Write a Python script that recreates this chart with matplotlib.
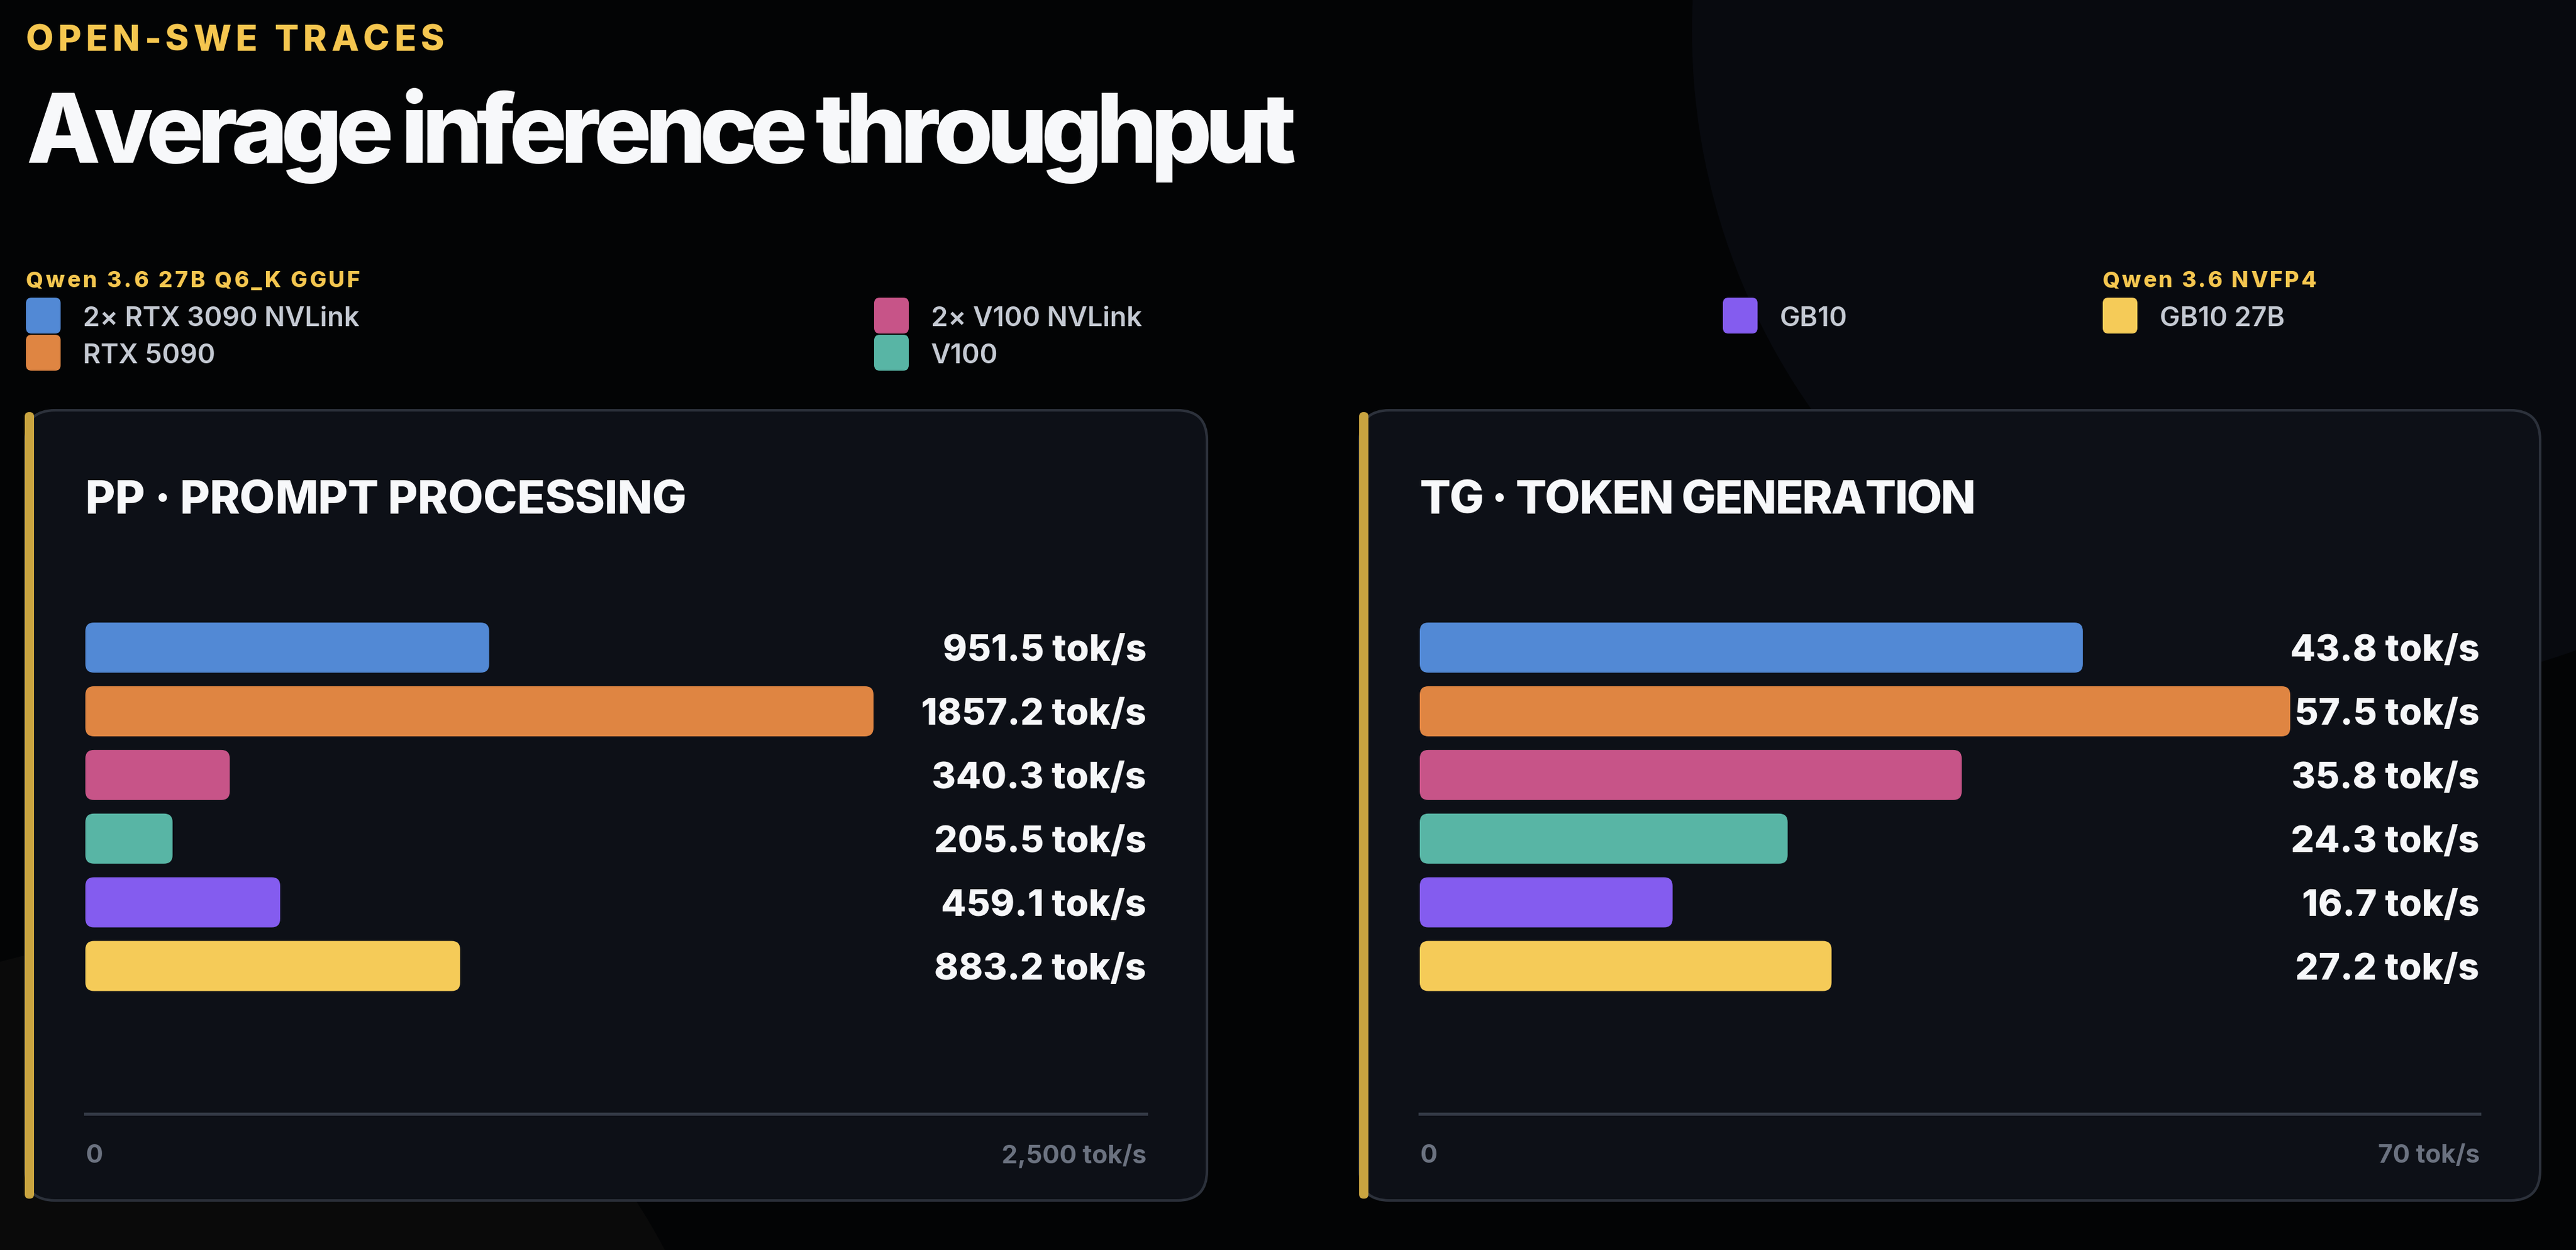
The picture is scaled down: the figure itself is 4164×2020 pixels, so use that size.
import matplotlib
matplotlib.use("Agg")
import matplotlib.pyplot as plt
from matplotlib.patches import FancyBboxPatch, Circle
from matplotlib.transforms import offset_copy

# ---- data ----
devices = ["2× RTX 3090 NVLink", "RTX 5090", "2× V100 NVLink", "V100", "GB10", "GB10 27B"]
models = ["Qwen 3.6 27B Q6_K GGUF"] * 5 + ["Qwen 3.6 NVFP4"]
pp_values = [951.5, 1857.2, 340.3, 205.5, 459.1, 883.2]
tg_values = [43.8, 57.5, 35.8, 24.3, 16.7, 27.2]
pp_max, tg_max = 2500, 70
pp_tick_label = "2,500 tok/s"
tg_tick_label = "70 tok/s"
kicker = "OPEN-SWE TRACES"
title = "Average inference throughput"
panel_titles = ["PP · PROMPT PROCESSING", "TG · TOKEN GENERATION"]

colors = ["#5289d5", "#df8542", "#c75488", "#58b5a5", "#845cef", "#f5cb58"]

W, H, DPI = 4164, 2020, 200
BG = "#030405"
FONT = ["Inter", "DejaVu Sans"]
plt.rcParams["font.family"] = FONT

fig = plt.figure(figsize=(W / DPI, H / DPI), dpi=DPI, facecolor=BG)
bg = fig.add_axes([0, 0, 1, 1])
bg.set_xlim(0, W)
bg.set_ylim(H, 0)
bg.axis("off")
renderer = fig.canvas.get_renderer()

# soft background shapes
bg.add_patch(Circle((3800, 50), 1065, fc="#080a0f", ec="none"))
bg.add_patch(Circle((250, 2450), 930, fc="#0a0a0a", ec="none"))


def text_width(s, **kw):
    t = bg.text(0, 0, s, **kw)
    w = t.get_window_extent(renderer).width
    t.remove()
    return w


def tracked(x0, x1, y, s, **kw):
    # lay out one char at a time so the line runs from x0 to x1 (letter spacing)
    chars = []
    for i, ch in enumerate(s):
        if ch == " ":
            continue
        cw = text_width(ch, **kw)
        chars.append((i, text_width(s[:i + 1], **kw) - cw, cw))
    natural = chars[-1][1] + chars[-1][2]
    step = (x1 - x0 - natural) / (len(s) - 1)
    for i, left, _ in chars:
        bg.text(x0 + left + i * step, y, s[i], ha="left", va="baseline", **kw)


# ---- header ----
tracked(42, 718, 82, kicker, fontsize=20.8, weight="heavy", color="#f5c64f")
tracked(42, 2095, 263, title, fontsize=56, weight="heavy", color="#f7f8fa")

# ---- legend ----
legend_cols = [42, 1413, 2785, 3399]
legend_slots = [(0, 0), (0, 1), (1, 0), (1, 1), (2, 0), (3, 0)]
header_spans = {"Qwen 3.6 27B Q6_K GGUF": 582, "Qwen 3.6 NVFP4": 3744}
seen = set()
for dev, model, col, (ci, ri) in zip(devices, models, colors, legend_slots):
    x = legend_cols[ci]
    if model not in seen:
        seen.add(model)
        tracked(x, header_spans[model], 464, model, fontsize=12.9, weight="heavy", color="#f5c64f")
    top = 481 + ri * 60
    bg.add_patch(FancyBboxPatch((x, top), 56, 58, boxstyle="round,pad=0,rounding_size=9",
                                fc=col, ec="none"))
    bg.text(x + 92, top + 46, dev, fontsize=15.8, weight="semibold", color="#c4c9d2",
            ha="left", va="baseline")

# ---- panels ----
panel_x = [(41, 1951), (2198, 4106)]
p_top, p_bot = 663, 1940
for (x0, x1) in panel_x:
    bg.add_patch(FancyBboxPatch((x0, p_top), x1 - x0, p_bot - p_top,
                                boxstyle="round,pad=0,rounding_size=48",
                                fc="#0d1017", ec="#2c313b", lw=1.5))
    bg.add_patch(FancyBboxPatch((x0 - 1, p_top + 3), 15, p_bot - p_top - 6,
                                boxstyle="round,pad=0,rounding_size=7",
                                fc="#c9a440", ec="none"))

plot_x = [(138, 1853), (2295, 4008)]
title_ends = [1110, 3194]
ax_top, ax_bot = 946, 1800
y_lo, y_hi = 7.322, -0.977


def bar_panel(k, values, vmax, right_label):
    x0, x1 = plot_x[k]
    tracked(x0, title_ends[k], 830, panel_titles[k], fontsize=26.7, weight="heavy", color="#f7f8fa")
    ax = fig.add_axes([x0 / W, 1 - ax_bot / H, (x1 - x0) / W, (ax_bot - ax_top) / H])
    ax.set_facecolor("none")
    ax.set_xlim(0, vmax)
    ax.set_ylim(y_lo, y_hi)
    bars = ax.barh(range(len(values)), values, height=0.787, color=colors)
    xpp = vmax / (x1 - x0)
    ypp = (y_lo - y_hi) / (ax_bot - ax_top)
    for b in bars:
        b.set_visible(False)
        ax.add_patch(FancyBboxPatch((b.get_x(), b.get_y()), b.get_width(), b.get_height(),
                                    boxstyle=f"round,pad=0,rounding_size={14 * xpp}",
                                    mutation_aspect=ypp / xpp,
                                    fc=b.get_facecolor(), ec="none"))
    lab_tr = offset_copy(ax.transData, fig=fig, y=-21.5, units="dots")
    for i, v in enumerate(values):
        ax.text(vmax, i, f"{v:.1f} tok/s", transform=lab_tr, ha="right", va="baseline",
                fontsize=21.4, weight="heavy", color="#f6f7f9")
    for s in ["top", "left", "right"]:
        ax.spines[s].set_visible(False)
    ax.spines["bottom"].set_color("#343a46")
    ax.spines["bottom"].set_linewidth(1.8)
    ax.set_yticks([])
    ax.set_xticks([0, vmax])
    labels = ax.set_xticklabels(["0", right_label], fontsize=14.8, weight="bold", color="#6b7280")
    labels[0].set_ha("left")
    labels[1].set_ha("right")
    ax.tick_params(axis="x", length=0, pad=17.5)


bar_panel(0, pp_values, pp_max, pp_tick_label)
bar_panel(1, tg_values, tg_max, tg_tick_label)

fig.savefig("out.png", dpi=DPI, facecolor=BG)
